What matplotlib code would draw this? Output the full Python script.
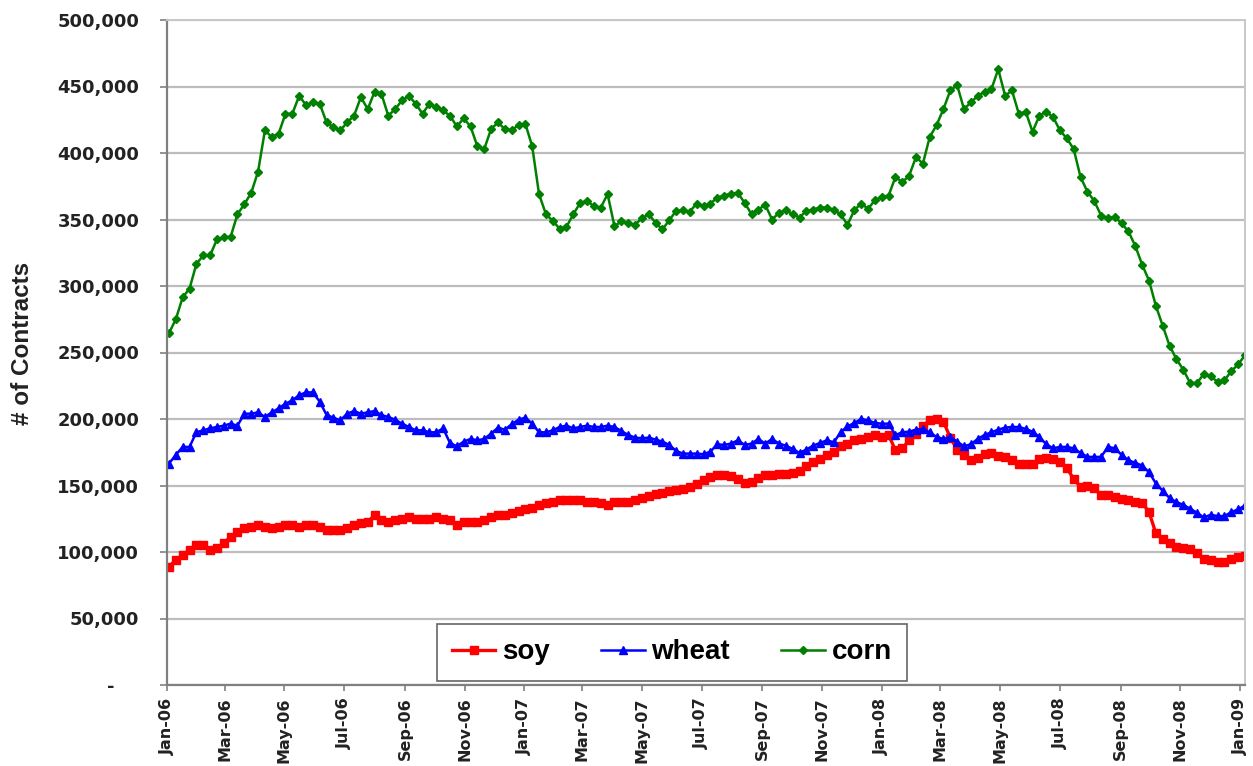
import numpy as np
import pandas as pd
import matplotlib
matplotlib.use("Agg")
import matplotlib.pyplot as plt
import matplotlib.dates as mdates
from matplotlib.ticker import FuncFormatter, MultipleLocator

# weekly open interest, thousands of contracts, first week of Jan-06 onward
weeks = pd.date_range("2006-01-03", periods=158, freq="7D")

soy = [
    89, 94, 97.75, 101.5, 105, 105, 101.5, 103, 106.5, 111.5,
    115, 118, 119, 120, 119, 118, 119, 120, 120, 119,
    120, 120, 119, 116.5, 116.5, 116.5, 118, 120, 121.5, 122.5,
    127.75, 124, 122.5, 124, 125, 126.5, 125, 125, 125, 126.5,
    125, 124, 120, 122.5, 122.5, 122.5, 124, 126.5, 127.75, 128,
    129, 131, 132, 132.75, 135, 136.5, 137.75, 139, 139, 139,
    139, 137.75, 137.75, 136.5, 135, 137.75, 137.75, 137.75, 139, 140.5,
    142, 143.5, 144.5, 146, 146.5, 147.5, 149, 151.5, 154, 156.5,
    157.75, 157.75, 157, 155, 152, 152.5, 156, 157.75, 158, 159,
    159, 159.5, 161, 165, 167.75, 170, 172.75, 175, 180, 181.5,
    184, 185, 186.5, 187.75, 186.5, 188, 176.5, 178, 184, 189,
    195, 199, 200, 198, 186, 177, 173, 169.5, 171, 174,
    174.5, 172, 171.5, 169, 166.5, 166, 166, 170, 170.5, 170,
    167.5, 163, 155, 149, 150, 148, 142.75, 142.75, 141.5, 140,
    139, 137.75, 137, 130, 114, 110, 106.5, 104, 102.75, 102.5,
    99, 95, 94, 92.75, 92.75, 95, 96.5, 97,
]

wheat = [
    166.5, 173, 179, 179, 190, 191.5, 193, 194, 195, 196.5,
    195, 204, 204, 205, 201.5, 205, 208, 211.5, 214, 218,
    220, 220, 213, 203, 201, 199, 204, 206, 204, 205,
    206, 203, 201.5, 199.5, 196.5, 194, 191.5, 191.5, 190, 190,
    193, 182, 179.5, 183, 185, 184, 185, 189, 193.5, 192,
    196, 199.5, 201, 196.5, 190, 190, 191.5, 194, 195, 193,
    194, 195, 194, 194, 195, 194, 191, 188, 186, 185.5,
    186, 184.5, 183, 180.5, 176, 174, 174, 174, 173.5, 175.5,
    181, 180.5, 181.5, 184, 180.5, 181.5, 185, 181.5, 185, 181.5,
    180, 177.5, 174.5, 177, 180, 182, 184, 182.5, 190, 194.5,
    197, 200, 199, 197, 196.5, 196.5, 188, 190, 190.5, 192,
    192.5, 190, 186.5, 185, 186.5, 183, 179.5, 181, 185, 188,
    190, 192, 193.5, 194, 194, 192.5, 190.5, 186.5, 181, 178,
    179, 179, 178, 174.5, 171.5, 171.5, 171.5, 179, 178, 173,
    169, 167, 165, 160, 151.5, 146, 140.5, 137.5, 135.5, 132.5,
    129.5, 126, 128, 127, 127, 130, 132, 135,
]

corn = [
    264.5, 275, 291.5, 298, 316.5, 323, 323, 335, 336.5, 337,
    354, 361.5, 370, 386, 417, 412, 414.5, 429.5, 429.5, 443,
    436, 438, 437, 423, 419.5, 417, 423, 428, 442, 433,
    446, 444.5, 428, 433, 439.5, 443, 437, 429.5, 437, 434.5,
    432, 428, 420, 426, 420, 405, 403, 418, 423, 418,
    417, 421, 422, 405, 369, 354, 349, 343, 344.5, 354,
    362.5, 364, 360, 359, 369, 345, 348.5, 347.5, 346, 351,
    354, 347.5, 342.5, 349.5, 356.5, 357, 356, 362, 360, 362,
    366.5, 368, 369.5, 370, 362.5, 354, 357.5, 361, 350, 355,
    357, 354, 351.5, 356.5, 357.5, 359, 359, 357, 354, 346,
    357, 362, 358, 364.5, 367, 368, 382, 378, 383, 397,
    392, 412, 421, 433, 447, 451, 433, 438, 443, 446,
    448, 463, 443, 447, 429.5, 431, 416, 428, 431, 427,
    417, 411, 403, 382, 371, 364, 353, 351, 352, 347,
    341, 330, 316, 304, 285, 270, 255, 245, 237, 227,
    227, 234, 232, 228, 229, 236, 241, 248,
]

series = ["soy", "wheat", "corn"]
colors = ["#ff0000", "#0000ff", "#008000"]

fig = plt.figure(figsize=(12.53, 7.66), dpi=100)
ax = fig.add_axes([167 / 1253, 1 - 685 / 766, 1078 / 1253, 665 / 766])

ax.plot(weeks, np.array(soy) * 1000, color=colors[0], lw=2.4, marker="s",
        ms=5.8, label=series[0])
ax.plot(weeks, np.array(wheat) * 1000, color=colors[1], lw=1.8, marker="^",
        ms=6.2, label=series[1])
ax.plot(weeks, np.array(corn) * 1000, color=colors[2], lw=1.8, marker="D",
        ms=4.5, label=series[2])

ax.set_ylim(0, 500000)
ax.set_xlim(pd.Timestamp("2006-01-01"), pd.Timestamp("2009-01-06"))
ax.yaxis.set_major_locator(MultipleLocator(50000))
ax.yaxis.set_major_formatter(FuncFormatter(lambda v, p: "-    " if v == 0 else f"{v:,.0f}"))
ax.xaxis.set_major_locator(mdates.MonthLocator(bymonth=[1, 3, 5, 7, 9, 11]))
ax.xaxis.set_major_formatter(mdates.DateFormatter("%b-%y"))

ax.grid(axis="y", color="#bdbdbd", lw=1.6)
ax.set_axisbelow(True)
for s in ["top", "right"]:
    ax.spines[s].set_color("#c8c8c8")
    ax.spines[s].set_linewidth(1.4)
for s in ["left", "bottom"]:
    ax.spines[s].set_color("#808080")
    ax.spines[s].set_linewidth(1.6)

ax.tick_params(axis="y", length=5, width=1.2, color="#808080", pad=15,
               labelsize=13, labelcolor="#222222")
ax.tick_params(axis="x", length=4, width=1.2, color="#808080", pad=5,
               labelsize=11.5, labelcolor="#222222", rotation=90)
for lab in ax.get_yticklabels() + ax.get_xticklabels():
    lab.set_fontweight("bold")

fig.text(23 / 1253, 1 - 343 / 766, "# of Contracts", rotation=90, ha="center",
         va="center", fontsize=17.5, family="Liberation Sans", weight="bold",
         color="#222222")

leg = ax.legend(loc="center", bbox_to_anchor=(0.4685, 0.049), ncol=3,
                prop={"family": "Liberation Sans", "weight": "bold", "size": 20},
                handlelength=1.55, handletextpad=0.25, columnspacing=1.85,
                borderpad=0.55, fancybox=False, framealpha=1, edgecolor="#666666")
leg.get_frame().set_linewidth(1.2)

fig.savefig("out.png", dpi=100)
